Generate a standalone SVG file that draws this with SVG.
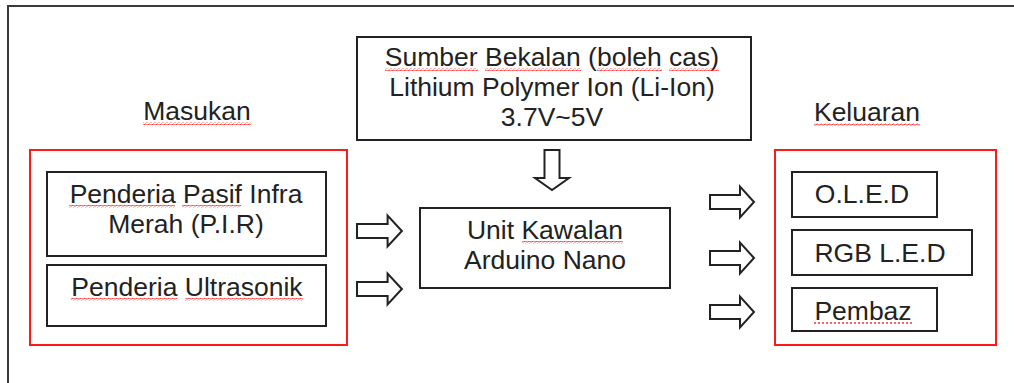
<svg xmlns="http://www.w3.org/2000/svg" xmlns:xlink="http://www.w3.org/1999/xlink" width="1014" height="383" viewBox="0 0 1014 383">
<style>
  .frame{fill:none;stroke:#3a3a3a;stroke-width:2}
  .box{fill:#fff;stroke:#222;stroke-width:2}
  .grp{fill:none;stroke:#ff1a1a;stroke-width:2}
  .t{font-family:"Liberation Sans",Arial,sans-serif;font-size:26.5px;fill:#222;text-anchor:middle}
  .arr{fill:#fff;stroke:#222;stroke-width:2;stroke-linejoin:miter}
  .sq{fill:url(#sq)}
  .dot{stroke:#ff3030;stroke-width:1.5;stroke-dasharray:2 2;fill:none}
</style>
<defs>
  <pattern id="sq" width="4" height="3" patternUnits="userSpaceOnUse">
    <path d="M0 2 Q1 0 2 1.5 T4 1.5" fill="none" stroke="#ff2020" stroke-width="0.9"/>
  </pattern>
  <path id="ra" d="M0 -7 H30 V-15.5 L44 0 L30 15.5 V7 H0 Z"/>
</defs>
<rect width="1014" height="383" fill="#fff"/>
<rect class="frame" x="8" y="6" width="1100" height="500"/>

<g id="masukan-label">
  <text class="t" x="197" y="120">Masukan</text>
  <rect class="sq" x="143" y="122" width="108" height="3"/>
</g>
<g id="keluaran-label">
  <text class="t" x="867" y="121">Keluaran</text>
  <rect class="sq" x="814" y="123" width="106" height="3"/>
</g>

<g id="power">
  <rect class="box" x="357" y="37" width="394" height="103"/>
  <text class="t" x="552" y="66">Sumber Bekalan (boleh cas)</text>
  <text class="t" x="552" y="96">Lithium Polymer Ion (Li-Ion)</text>
  <text class="t" x="552" y="126">3.7V~5V</text>
  <rect class="sq" x="385" y="68" width="93" height="3"/>
  <rect class="sq" x="485" y="68" width="96" height="3"/>
  <rect class="sq" x="597" y="68" width="65" height="3"/>
  <rect class="sq" x="669" y="68" width="50" height="3"/>
</g>

<g id="input-group">
  <rect class="grp" x="30" y="150" width="317" height="195"/>
</g>
<g id="pir">
  <rect class="box" x="47" y="172" width="279" height="84"/>
  <text class="t" x="186" y="203">Penderia Pasif Infra</text>
  <text class="t" x="186" y="233">Merah (P.I.R)</text>
  <rect class="sq" x="69" y="205" width="106" height="3"/>
  <rect class="sq" x="182" y="205" width="59" height="3"/>
</g>
<g id="ultrasonik">
  <rect class="box" x="47" y="265" width="279" height="61"/>
  <text class="t" x="187" y="296">Penderia Ultrasonik</text>
  <rect class="sq" x="71" y="298" width="106" height="3"/>
  <rect class="sq" x="185" y="298" width="118" height="3"/>
</g>

<g id="arduino">
  <rect class="box" x="420" y="208" width="250" height="80"/>
  <text class="t" x="545" y="239">Unit Kawalan</text>
  <text class="t" x="545" y="269">Arduino Nano</text>
  <rect class="sq" x="522" y="241" width="101" height="3"/>
</g>

<g id="output-group">
  <rect class="grp" x="775" y="150" width="221" height="195"/>
</g>
<g id="oled">
  <rect class="box" x="792" y="172" width="145" height="45"/>
  <text class="t" x="862" y="203">O.L.E.D</text>
</g>
<g id="rgb">
  <rect class="box" x="792" y="230" width="180" height="45"/>
  <text class="t" x="880" y="262">RGB L.E.D</text>
</g>
<g id="pembaz">
  <rect class="box" x="792" y="288" width="145" height="43"/>
  <text class="t" x="863" y="320">Pembaz</text>
  <line class="dot" x1="814" y1="323" x2="912" y2="323"/>
</g>

<g id="connectors">
  <use xlink:href="#ra" class="arr" transform="translate(357,231) scale(1.02,1)"/>
  <use xlink:href="#ra" class="arr" transform="translate(357,289) scale(1.02,1)"/>
  <path class="arr" d="M544.5 150 H559.5 V178 H569 L552 190 L535 178 H544.5 Z"/>
  <use xlink:href="#ra" class="arr" transform="translate(710,202)"/>
  <use xlink:href="#ra" class="arr" transform="translate(710,258)"/>
  <use xlink:href="#ra" class="arr" transform="translate(710,312)"/>
</g>
</svg>
